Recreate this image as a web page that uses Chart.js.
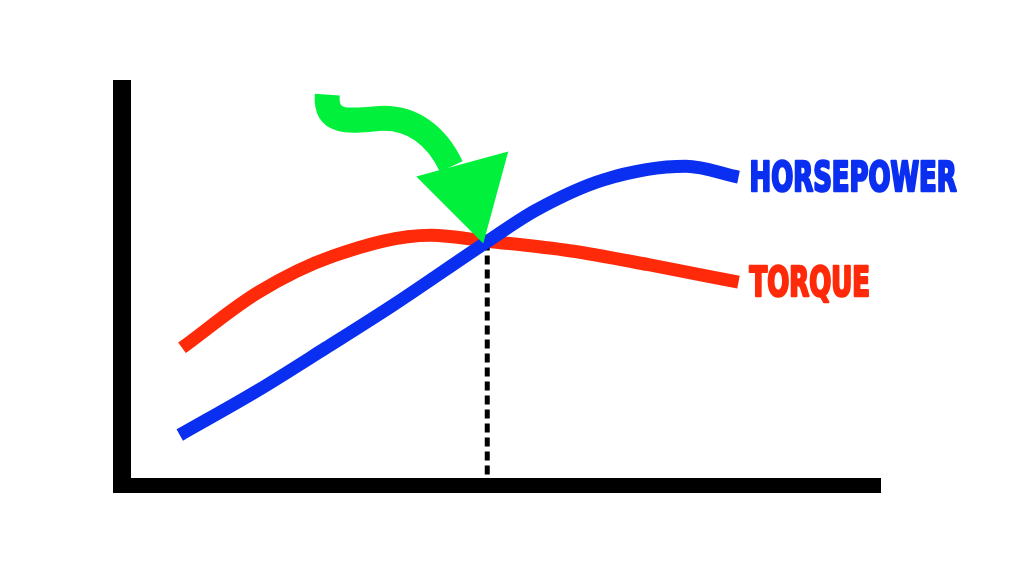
<!DOCTYPE html>
<html>
<head>
<meta charset="utf-8">
<script src="https://cdn.jsdelivr.net/npm/chart.js@4.4.1/dist/chart.umd.min.js"></script>
<style>
  html, body { margin: 0; padding: 0; background: #fff; }
  #wrap { width: 1024px; height: 576px; }
</style>
</head>
<body>
<div id="wrap"><canvas id="powerCurve"></canvas></div>
<script>
// engine speed (arbitrary 0-100 scale) and relative output
const hpRpm = [6.5, 17, 26, 35, 47.5, 54, 63, 74, 81];
const hpValues = [10.8, 22.1, 32.7, 43.5, 59.4, 67.3, 74.9, 78.3, 75.6];
const tqRpm = [6.8, 17, 27, 40, 47.5, 58.5, 69, 81];
const tqValues = [32.7, 46.7, 55.8, 61.0, 59.5, 57.1, 53.6, 49.2];
const seriesLabels = ['HORSEPOWER', 'TORQUE'];
const crossing = [47.5, 59.4];

const blue = '#0b2ff0';
const red = '#ff2a0a';
const green = '#00f03c';
const labelFont = 'bold 40px "Liberation Sans Narrow", "DejaVu Sans Condensed", "Liberation Sans", sans-serif';

const toPoints = (xs, ys) => xs.map((x, i) => ({x: x, y: ys[i]}));

const diagram = {
    id: 'diagram',
    beforeDatasetsDraw(chart) {
        const ctx = chart.ctx;
        const a = chart.chartArea;
        const px = chart.scales.x.getPixelForValue(crossing[0]);
        const py = chart.scales.y.getPixelForValue(crossing[1]);
        ctx.save();
        // dashed drop line from the crossing point
        ctx.strokeStyle = '#000';
        ctx.lineWidth = 5;
        ctx.setLineDash([9, 5]);
        ctx.beginPath();
        ctx.moveTo(px, py);
        ctx.lineTo(px, a.bottom);
        ctx.stroke();
        ctx.restore();
    },
    afterDatasetsDraw(chart) {
        const ctx = chart.ctx;
        const a = chart.chartArea;
        const px = chart.scales.x.getPixelForValue(crossing[0]);
        const py = chart.scales.y.getPixelForValue(crossing[1]);
        ctx.save();
        // thick axes
        ctx.fillStyle = '#000';
        ctx.fillRect(a.left - 18, a.top, 18, a.bottom - a.top + 15);
        ctx.fillRect(a.left - 18, a.bottom, a.right - a.left + 18, 15);

        // green arrow pointing at the crossing
        ctx.strokeStyle = green;
        ctx.fillStyle = green;
        ctx.lineWidth = 25;
        ctx.beginPath();
        ctx.moveTo(px - 160, py - 147);
        ctx.bezierCurveTo(px - 162, py - 118, px - 140, py - 120, px - 110, py - 123);
        ctx.bezierCurveTo(px - 75, py - 126, px - 50, py - 105, px - 36, py - 75);
        ctx.stroke();
        ctx.beginPath();
        ctx.moveTo(px - 71, py - 65);
        ctx.lineTo(px + 21, py - 90);
        ctx.lineTo(px - 4, py + 2);
        ctx.closePath();
        ctx.fill();

        // end-of-line labels, squeezed to a condensed poster look
        ctx.font = labelFont;
        ctx.textBaseline = 'middle';
        ctx.textAlign = 'left';
        ctx.lineJoin = 'round';
        chart.data.datasets.forEach((ds, i) => {
            const pts = chart.getDatasetMeta(i).data;
            const last = pts[pts.length - 1];
            ctx.save();
            ctx.translate(last.x + 11, last.y + 3);
            ctx.scale(0.72, 1.02);
            ctx.fillStyle = ds.borderColor;
            ctx.strokeStyle = ds.borderColor;
            ctx.lineWidth = 2.5;
            ctx.fillText(seriesLabels[i], 0, 0);
            ctx.strokeText(seriesLabels[i], 0, 0);
            ctx.restore();
        });
        ctx.restore();
    }
};

const ctx = document.getElementById('powerCurve').getContext('2d');
const powerChart = new Chart(ctx, {
    type: 'line',
    data: {
        datasets: [{
            label: seriesLabels[0],
            data: toPoints(hpRpm, hpValues),
            borderColor: blue,
            borderWidth: 13,
            cubicInterpolationMode: 'monotone',
            pointRadius: 0
        }, {
            label: seriesLabels[1],
            data: toPoints(tqRpm, tqValues),
            borderColor: red,
            borderWidth: 13,
            cubicInterpolationMode: 'monotone',
            pointRadius: 0
        }]
    },
    options: {
        responsive: true,
        maintainAspectRatio: false,
        animation: false,
        layout: { padding: { left: 131, top: 80, right: 143, bottom: 98 } },
        scales: {
            x: { type: 'linear', min: 0, max: 100, display: false },
            y: { min: 0, max: 100, display: false }
        },
        plugins: {
            legend: { display: false },
            tooltip: { enabled: false }
        }
    },
    plugins: [diagram]
});
</script>
</body>
</html>
